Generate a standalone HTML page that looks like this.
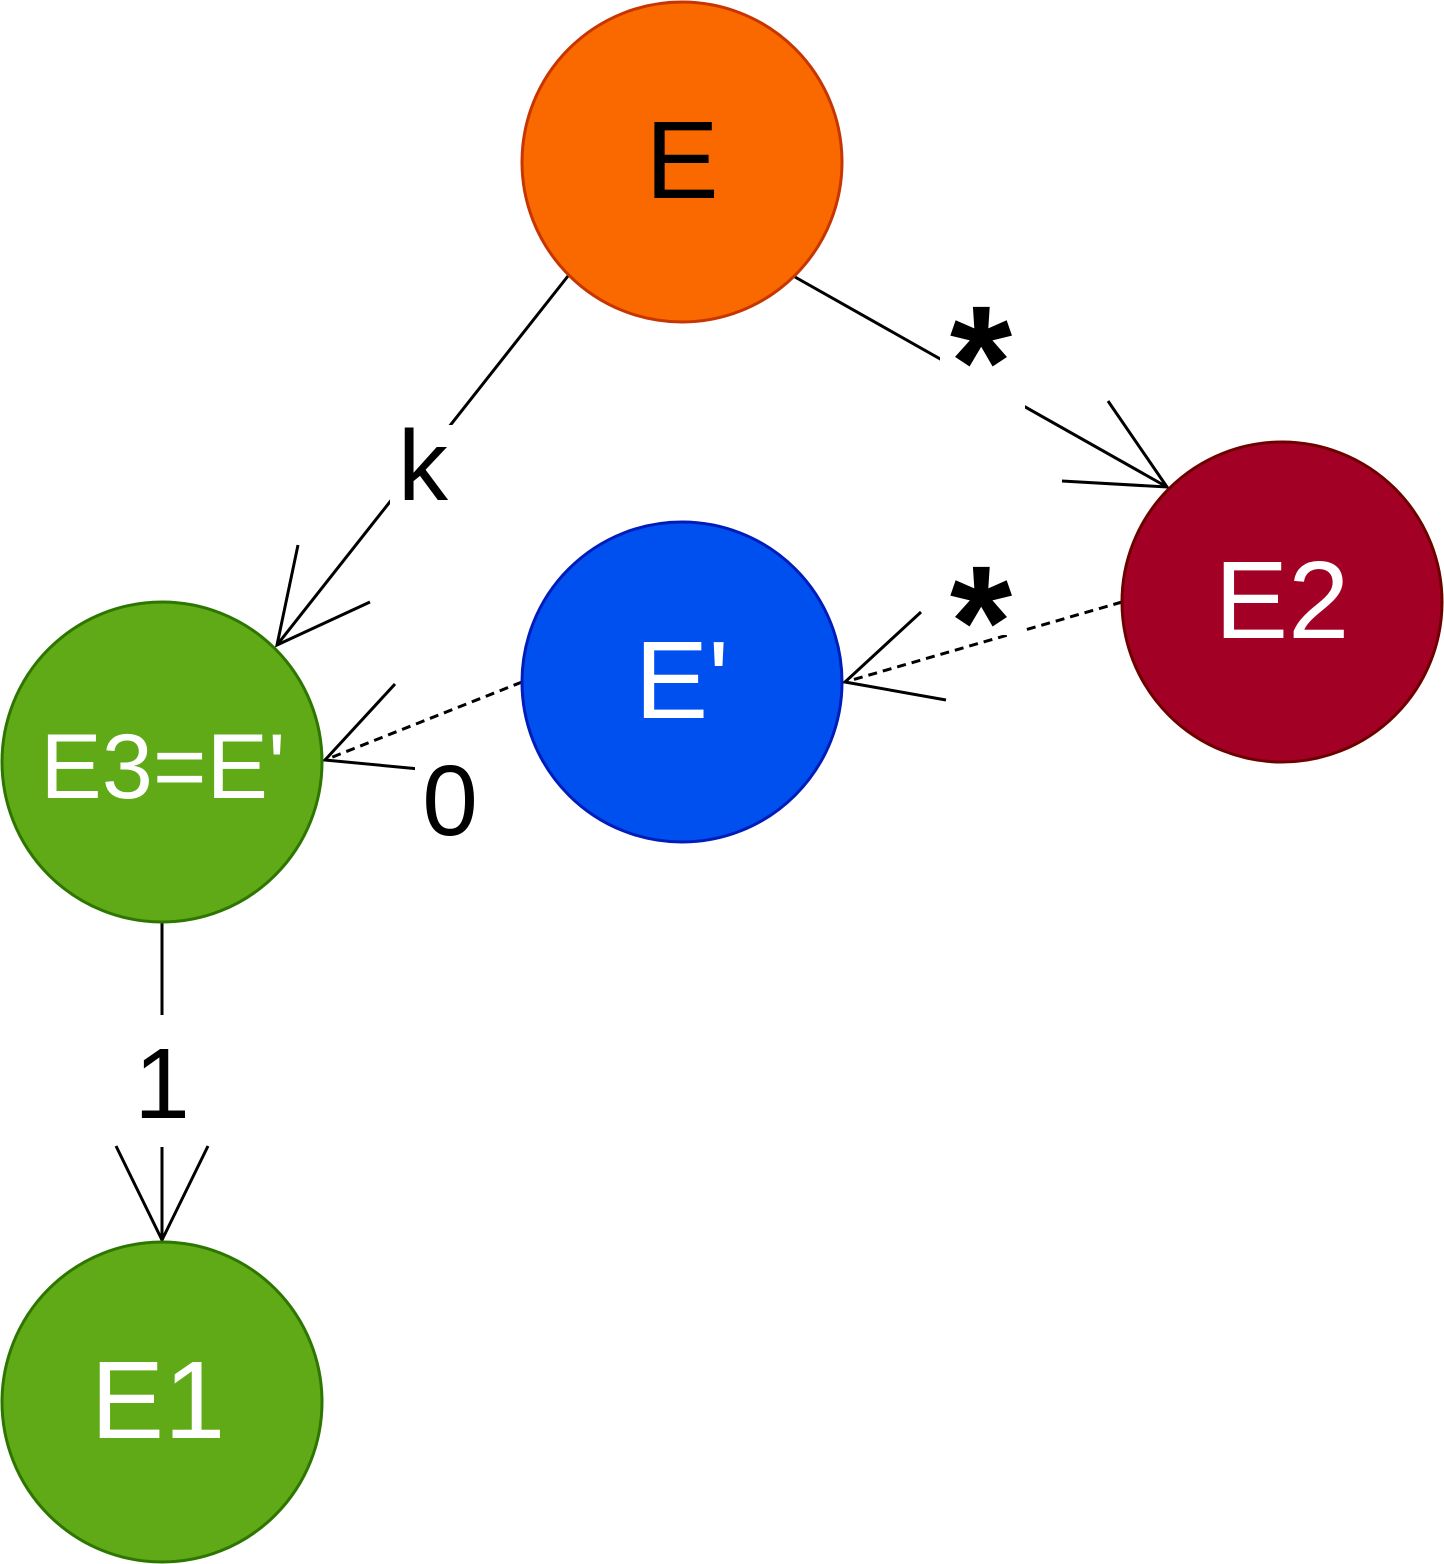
<!DOCTYPE html>
<html><head><style>html,body{margin:0;padding:0;background:#fff}svg{display:block}</style></head>
<body>
<svg width="1444" height="1564" viewBox="0 0 1444 1564" xmlns="http://www.w3.org/2000/svg" font-family="Liberation Sans, sans-serif">
<g stroke="#000" stroke-width="3" fill="none">
<line x1="568" y1="276" x2="277" y2="645"/>
<polyline points="298,545 277,645 370,602"/>
<line x1="795" y1="277" x2="1167" y2="487"/>
<polyline points="1108,401 1167,487 1062,481"/>
<line x1="1122" y1="602" x2="845" y2="682" stroke-dasharray="9,6"/>
<polyline points="921,612 845,682 946,700"/>
<line x1="522" y1="682" x2="325" y2="760" stroke-dasharray="9,6"/>
<polyline points="395,684 325,760 430,770"/>
<line x1="162" y1="922" x2="162" y2="1240"/>
<polyline points="116,1146 162,1240 208,1146"/>
</g>
<g fill="#fff">
<rect x="390" y="425" width="70" height="85"/>
<rect x="940" y="295" width="85" height="115"/>
<rect x="940" y="555" width="85" height="80"/>
<rect x="415" y="755" width="70" height="85"/>
<rect x="130" y="1015" width="65" height="132"/>
</g>
<g font-size="100" text-anchor="middle" fill="#000">
<text x="423" y="500">k</text>
<text x="981" y="417" font-weight="bold" font-size="160">*</text>
<text x="981" y="677" font-weight="bold" font-size="160">*</text>
<text x="450" y="835">0</text>
<text x="162" y="1118">1</text>
</g>
<circle cx="682" cy="162" r="160" fill="#fa6800" stroke="#c73500" stroke-width="3"/>
<circle cx="1282" cy="602" r="160" fill="#a20025" stroke="#6f0000" stroke-width="3"/>
<circle cx="682" cy="682" r="160" fill="#0050ef" stroke="#001dbc" stroke-width="3"/>
<circle cx="162" cy="762" r="160" fill="#60a917" stroke="#2d7600" stroke-width="3"/>
<circle cx="162" cy="1402" r="160" fill="#60a917" stroke="#2d7600" stroke-width="3"/>
<g font-size="110" text-anchor="middle">
<text x="682" y="198" fill="#000">E</text>
<text x="1282" y="638" fill="#fff">E2</text>
<text x="682" y="718" fill="#fff">E'</text>
<text x="163" y="798" fill="#fff" font-size="92">E3=E'</text>
<text x="158" y="1438" fill="#fff">E1</text>
</g>
</svg>
</body></html>
